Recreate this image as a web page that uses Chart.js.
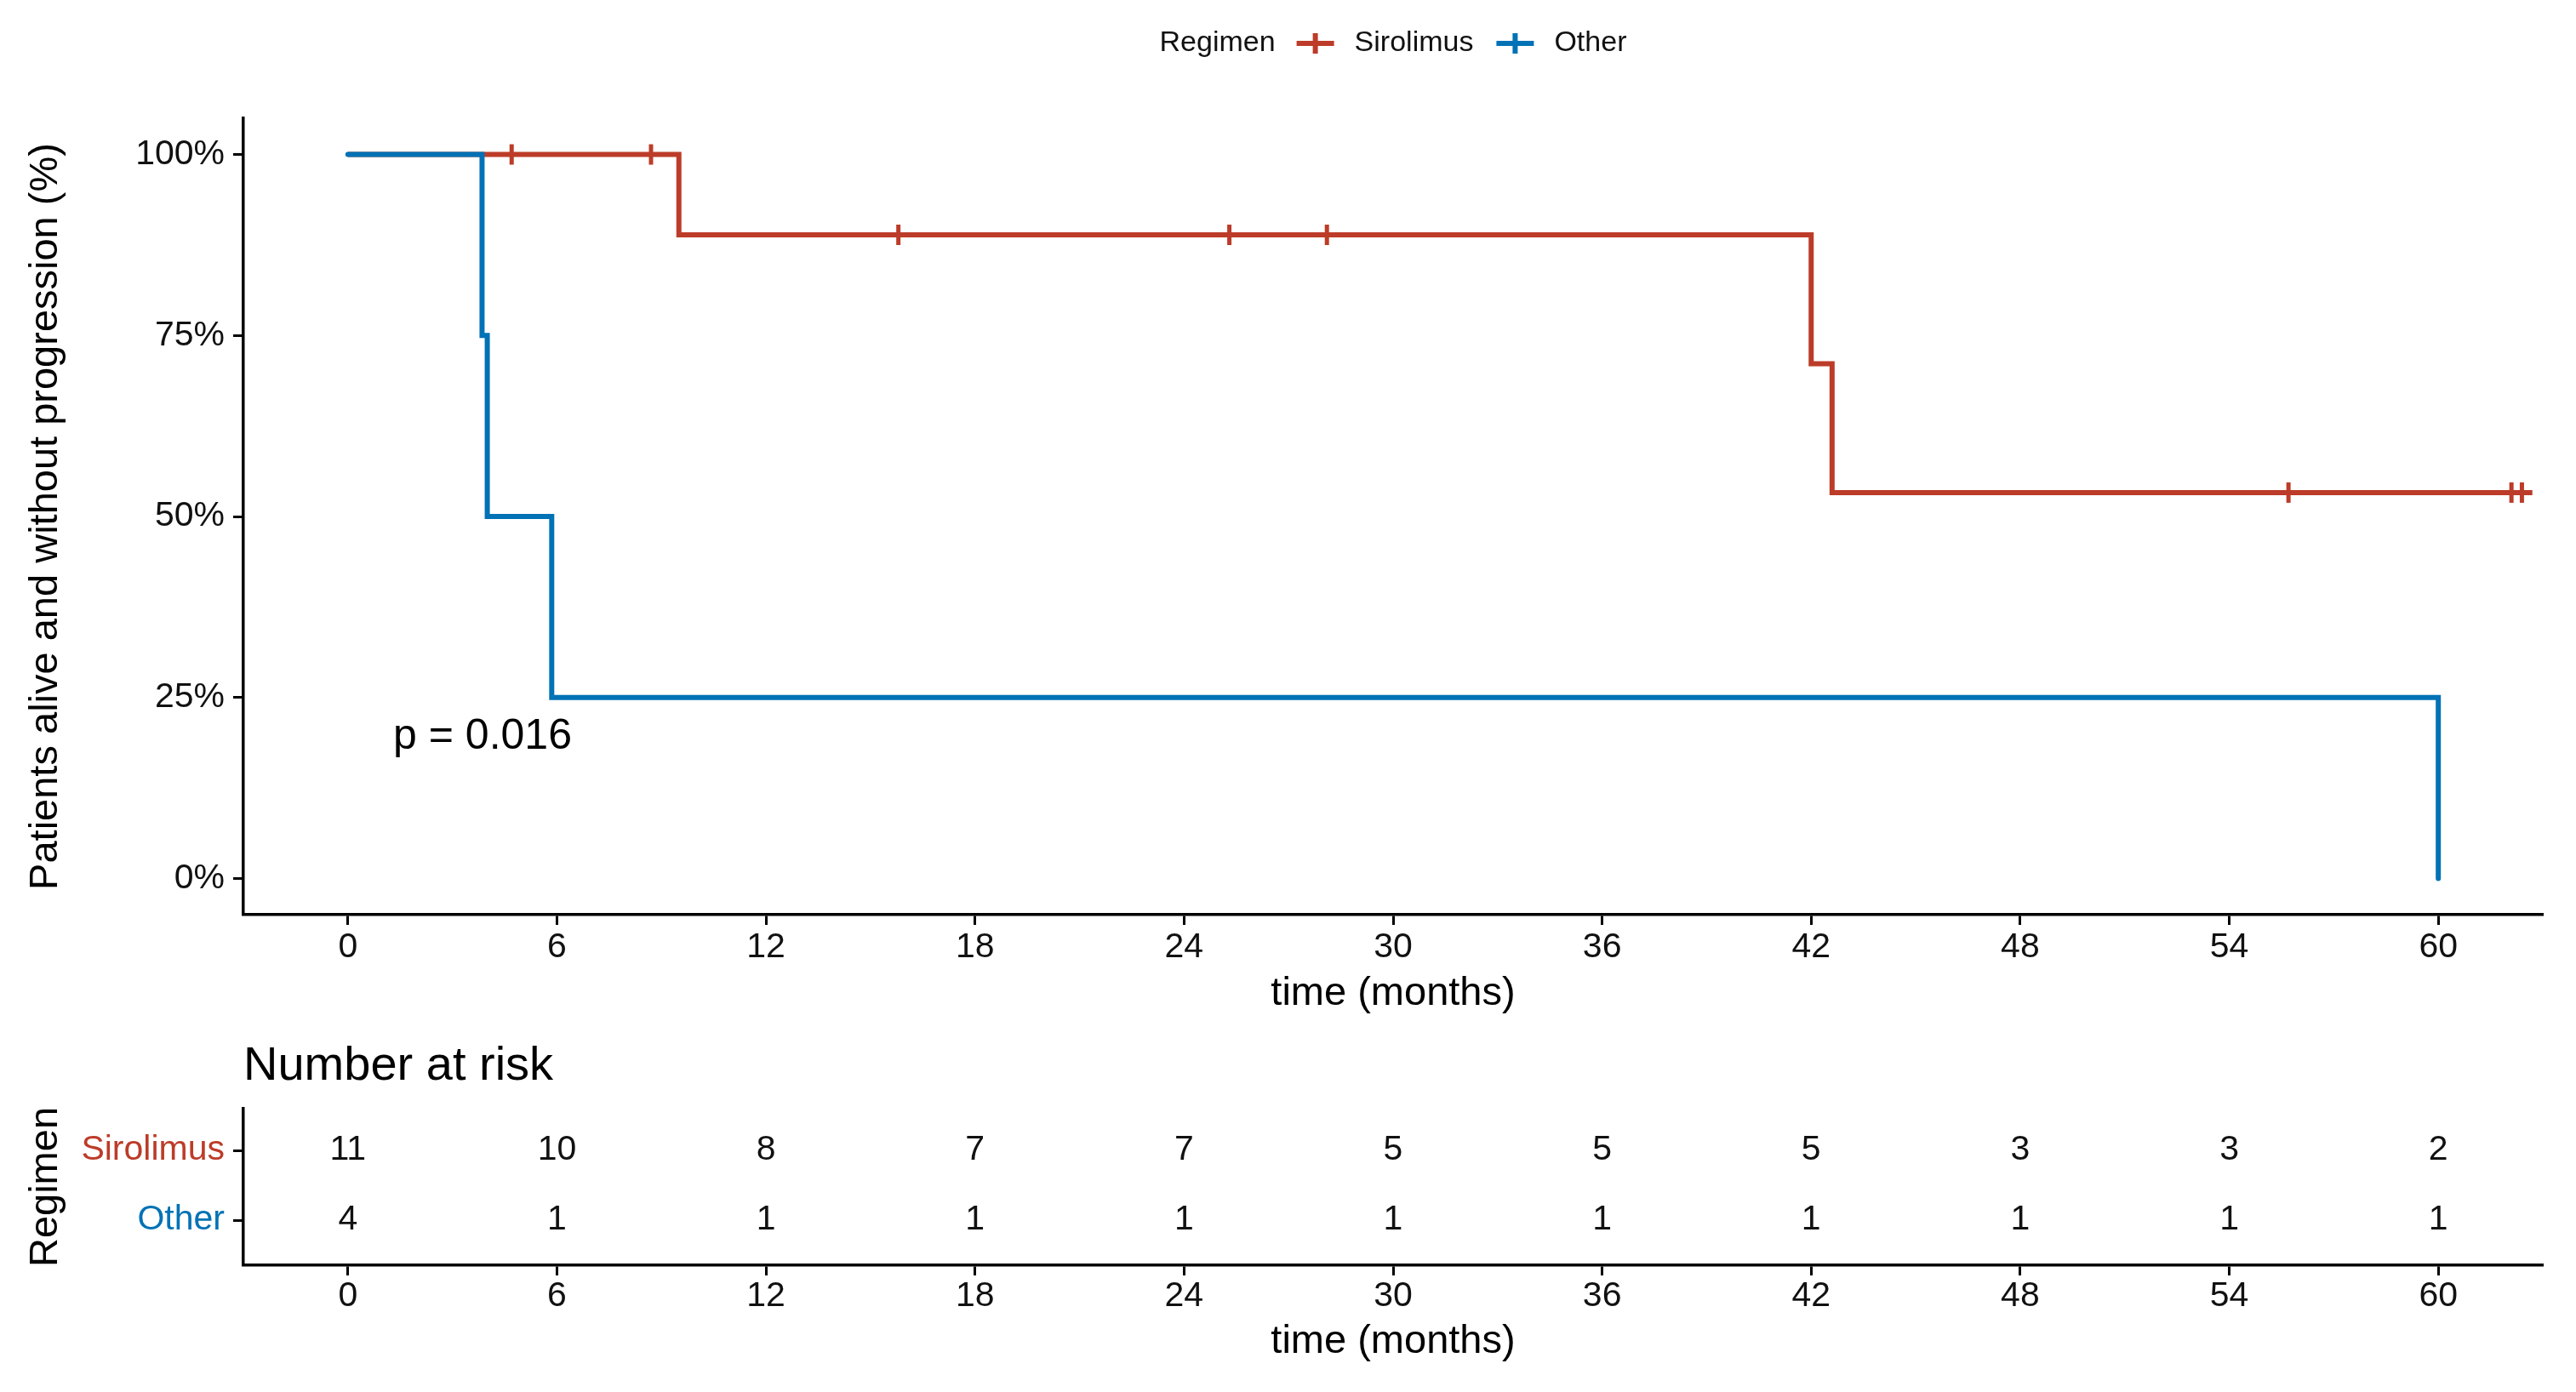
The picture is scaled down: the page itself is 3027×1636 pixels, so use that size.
<!DOCTYPE html>
<html>
<head>
<meta charset="utf-8">
<script src="https://cdn.jsdelivr.net/npm/chart.js@4.4.0/dist/chart.umd.min.js"></script>
<style>
  html, body { margin: 0; padding: 0; background: #fff; }
  #wrap { position: relative; width: 3027px; height: 1636px; }
  canvas { position: absolute; left: 0; }
  #km { top: 0; }
  #risk { top: 1220px; }
</style>
</head>
<body>
<div id="wrap">
  <canvas id="km" width="3027" height="1220"></canvas>
  <canvas id="risk" width="3027" height="416"></canvas>
</div>
<script>
// data
const groups = ['Sirolimus', 'Other'];
const groupColors = ['#BC3C29', '#0072B5'];
const groupRow = [2, 1]; // row position in the risk table (top = Sirolimus)

const sirolimusTime = [0, 9.5, 42.0, 42.6, 62.7];
const sirolimusSurv = [100, 88.9, 71.1, 53.3, 53.3];
const sirolimusCensorTime = [4.7, 8.7, 15.8, 25.3, 28.1, 55.7, 62.1, 62.4];
const sirolimusCensorSurv = [100, 100, 88.9, 88.9, 88.9, 53.3, 53.3, 53.3];

const otherTime = [0, 3.85, 4.0, 5.85, 60];
const otherSurv = [100, 75, 50, 25, 0];

const xTicks = [0, 6, 12, 18, 24, 30, 36, 42, 48, 54, 60];
const yTicks = [0, 25, 50, 75, 100];

const riskTimes = [0, 6, 12, 18, 24, 30, 36, 42, 48, 54, 60];
const sirolimusAtRisk = [11, 10, 8, 7, 7, 5, 5, 5, 3, 3, 2];
const otherAtRisk = [4, 1, 1, 1, 1, 1, 1, 1, 1, 1, 1];

const pValueText = 'p = 0.016';
const pValueAt = { x: 1.3, y: 19.5 };

const FONT = "'Liberation Sans', Arial, Helvetica, sans-serif";
Chart.defaults.font.family = FONT;
Chart.defaults.color = '#000';
Chart.defaults.animation = false;

const xy = (xs, ys) => xs.map((x, i) => ({ x: x, y: ys[i] }));

function xScale(tickPad, titlePadBottom, height) {
  return {
    type: 'linear', min: -3, max: 63,
    afterBuildTicks: s => { s.ticks = xTicks.map(v => ({ value: v })); },
    afterFit: s => { s.height = height; },
    ticks: { font: { size: 41 }, color: '#111', padding: tickPad },
    grid: { drawOnChartArea: false, drawTicks: true, tickLength: 12, tickWidth: 3, tickColor: '#000' },
    border: { display: true, color: '#000', width: 3.5 },
    title: { display: true, text: 'time (months)', font: { size: 47 }, color: '#000',
             padding: { top: 0, bottom: titlePadBottom } }
  };
}

// legend drawn as a row: "Regimen" + line/cross symbols
const kmLegend = {
  id: 'kmLegend',
  afterDraw(chart) {
    const ctx = chart.ctx;
    const y = 51;
    ctx.save();
    ctx.font = '34px ' + FONT;
    ctx.textBaseline = 'middle';
    const symW = 44, gapTitle = 25, gapSym = 24, gapItem = 27;
    let total = ctx.measureText('Regimen').width + gapTitle;
    groups.forEach((g, i) => {
      total += symW + gapSym + ctx.measureText(g).width + (i < groups.length - 1 ? gapItem : 0);
    });
    let x = (chart.chartArea.left + chart.chartArea.right) / 2 - total / 2;
    ctx.fillStyle = '#111';
    ctx.fillText('Regimen', x, y);
    x += ctx.measureText('Regimen').width + gapTitle;
    groups.forEach((g, i) => {
      ctx.strokeStyle = groupColors[i];
      ctx.lineWidth = 6;
      ctx.beginPath();
      ctx.moveTo(x, y); ctx.lineTo(x + symW, y);
      ctx.moveTo(x + symW / 2, y - 12); ctx.lineTo(x + symW / 2, y + 12);
      ctx.stroke();
      x += symW + gapSym;
      ctx.fillStyle = '#111';
      ctx.fillText(g, x, y);
      x += ctx.measureText(g).width + gapItem;
    });
    ctx.restore();
  }
};

const pValueLabel = {
  id: 'pValueLabel',
  afterDatasetsDraw(chart) {
    const ctx = chart.ctx;
    ctx.save();
    ctx.font = '50px ' + FONT;
    ctx.fillStyle = '#000';
    ctx.textBaseline = 'middle';
    ctx.fillText(pValueText, chart.scales.x.getPixelForValue(pValueAt.x), chart.scales.y.getPixelForValue(pValueAt.y));
    ctx.restore();
  }
};

new Chart(document.getElementById('km'), {
  type: 'scatter',
  data: {
    datasets: [
      { label: 'Other', data: xy(otherTime, otherSurv), showLine: true, stepped: true,
        borderColor: groupColors[1], borderWidth: 6, pointRadius: 0, borderCapStyle: 'round', order: 0 },
      { label: 'Sirolimus', data: xy(sirolimusTime, sirolimusSurv), showLine: true, stepped: true,
        borderColor: groupColors[0], borderWidth: 6, pointRadius: 0, order: 1 },
      { label: 'Sirolimus censored', data: xy(sirolimusCensorTime, sirolimusCensorSurv), showLine: false,
        pointStyle: 'line', rotation: 90, pointRadius: 12, borderWidth: 5,
        borderColor: groupColors[0], backgroundColor: groupColors[0], order: 1 }
    ]
  },
  options: {
    responsive: false,
    devicePixelRatio: 1,
    layout: { padding: { top: 139, right: 39, left: 0, bottom: 0 } },
    plugins: { legend: { display: false }, tooltip: { enabled: false } },
    scales: {
      x: xScale(2, 24, 145),
      y: {
        type: 'linear', min: -5, max: 105,
        afterBuildTicks: s => { s.ticks = yTicks.map(v => ({ value: v })); },
        afterFit: s => { s.width = 286; },
        ticks: { font: { size: 41 }, color: '#111', padding: 10, callback: v => v + '%' },
        grid: { drawOnChartArea: false, drawTicks: true, tickLength: 12, tickWidth: 3, tickColor: '#000' },
        border: { display: true, color: '#000', width: 3.5 },
        title: { display: true, text: 'Patients alive and without progression (%)', font: { size: 47 },
                 color: '#000', padding: { top: 26, bottom: 0 } }
      }
    }
  },
  plugins: [kmLegend, pValueLabel]
});

// number at risk table
const riskText = {
  id: 'riskText',
  afterDatasetsDraw(chart) {
    const ctx = chart.ctx;
    ctx.save();
    ctx.font = '41px ' + FONT;
    ctx.fillStyle = '#111';
    ctx.textAlign = 'center';
    ctx.textBaseline = 'middle';
    chart.data.datasets.forEach((ds, di) => {
      chart.getDatasetMeta(di).data.forEach((pt, i) => {
        ctx.fillText(String(ds.counts[i]), pt.x, pt.y);
      });
    });
    ctx.font = '56px ' + FONT;
    ctx.textAlign = 'left';
    ctx.fillStyle = '#000';
    ctx.fillText('Number at risk', chart.chartArea.left, 34);
    ctx.restore();
  }
};

const rowGroup = v => groupRow.indexOf(v);

new Chart(document.getElementById('risk'), {
  type: 'scatter',
  data: {
    datasets: [
      { label: 'Sirolimus', counts: sirolimusAtRisk, data: riskTimes.map(t => ({ x: t, y: groupRow[0] })), pointRadius: 0 },
      { label: 'Other', counts: otherAtRisk, data: riskTimes.map(t => ({ x: t, y: groupRow[1] })), pointRadius: 0 }
    ]
  },
  options: {
    responsive: false,
    devicePixelRatio: 1,
    layout: { padding: { top: 83, right: 39, left: 0, bottom: 0 } },
    plugins: { legend: { display: false }, tooltip: { enabled: false } },
    scales: {
      x: xScale(0, 31, 149),
      y: {
        type: 'linear', min: 0.354, max: 2.598,
        afterBuildTicks: s => { s.ticks = groupRow.map(v => ({ value: v })); },
        afterFit: s => { s.width = 286; },
        ticks: { font: { size: 41 }, padding: 10,
                 callback: v => groups[rowGroup(v)],
                 color: ctx => groupColors[rowGroup(ctx.tick.value)] },
        grid: { drawOnChartArea: false, drawTicks: true, tickLength: 12, tickWidth: 3, tickColor: '#000' },
        border: { display: true, color: '#000', width: 3.5 },
        title: { display: true, text: 'Regimen', font: { size: 47 }, color: '#000', padding: { top: 26, bottom: 0 } }
      }
    }
  },
  plugins: [riskText]
});
</script>
</body>
</html>
